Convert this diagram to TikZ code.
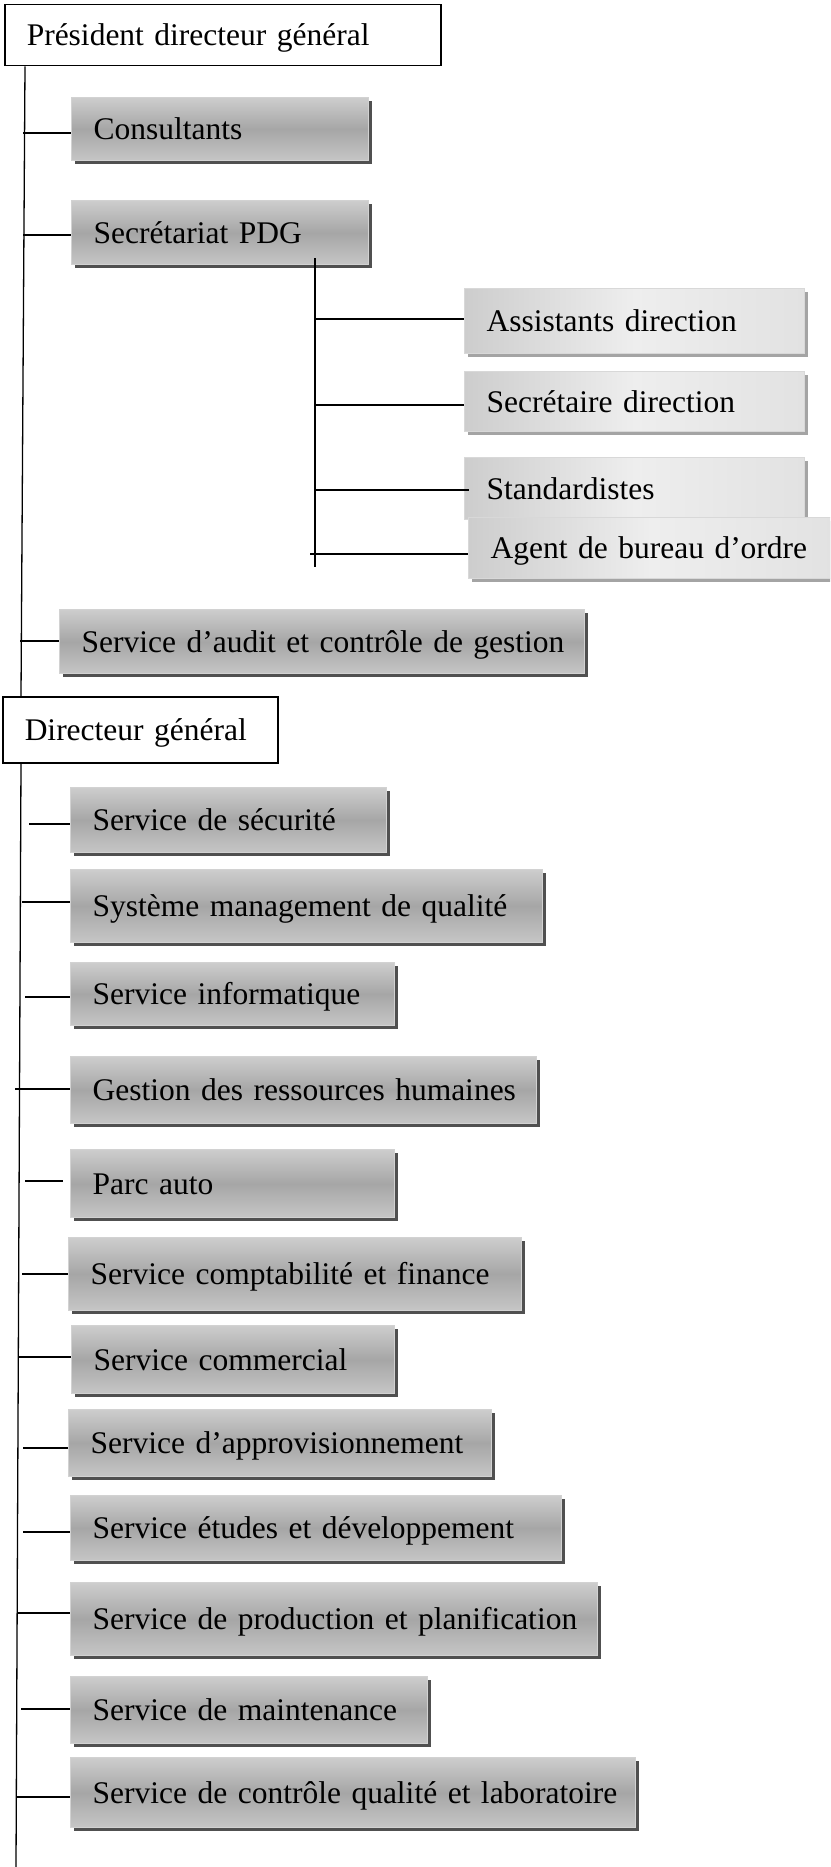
\documentclass[tikz,border=0pt]{standalone}
\usepackage{fontspec}
\setmainfont{Liberation Serif}
\usetikzlibrary{shadows}

\definecolor{gtop}{HTML}{CDCDCD}
\definecolor{gmid}{HTML}{A6A6A6}
\definecolor{gbot}{HTML}{C6C6C6}
\definecolor{gedge}{HTML}{D2D2D2}
\definecolor{gshadow}{HTML}{505050}
\definecolor{lleft}{HTML}{CDCDCD}
\definecolor{lmid}{HTML}{EEEEEE}
\definecolor{lright}{HTML}{E2E2E2}
\definecolor{ledge}{HTML}{D8D8D8}
\definecolor{lshadow}{HTML}{A4A4A4}

\tikzset{
  boxtext/.style={anchor=north west, inner xsep=0pt, inner ysep=0pt, align=left,
    text height=21pt, text depth=0pt,
    font=\fontsize{31.5}{36}\selectfont,
    execute at begin node={\hspace*{22pt}}},
  headbox/.style={boxtext, draw=black, line width=1.5pt, fill=white},
  graybox/.style={boxtext, draw=gedge, line width=1.2pt,
    top color=gtop, bottom color=gbot, middle color=gmid,
    drop shadow={shadow xshift=3pt, shadow yshift=-3pt, fill=gshadow, opacity=1}},
  lightbox/.style={boxtext, draw=ledge, line width=1.2pt,
    left color=lleft, right color=lright, middle color=lmid,
    drop shadow={shadow xshift=3pt, shadow yshift=-3pt, fill=lshadow, opacity=1}},
  link/.style={line width=1.3pt, black}
}

\begin{document}
\begin{tikzpicture}[x=1pt, y=-1pt]
\clip (0,0) rectangle (830,1867);
\fill[white] (0,0) rectangle (830,1867);

% heads
\node[headbox, minimum height=61pt, text width=436pt] (pdg) at (4,4) {Président directeur général};
\node[headbox, minimum height=66pt, text width=275pt] (dg) at (2,696) {Directeur général};

% attached to the PDG
\node[graybox, minimum height=63pt, text width=297pt] (cons) at (71,97) {Consultants};
\node[graybox, minimum height=64pt, text width=297pt] (secr) at (71,200) {Secrétariat PDG};
\node[graybox, minimum height=64pt, text width=525pt] (audit) at (59,609) {Service d’audit et contrôle de gestion};

% secretariat staff
\node[lightbox, minimum height=65pt, text width=340pt] (asst) at (464,288) {Assistants direction};
\node[lightbox, minimum height=60pt, text width=340pt] (secd) at (464,371) {Secrétaire direction};
\node[lightbox, minimum height=62pt, text width=340pt] (stan) at (464,457) {Standardistes};
\node[lightbox, minimum height=61pt, text width=366pt] (agent) at (468,517) {Agent de bureau d’ordre};

% services under the DG
\node[graybox, minimum height=65pt, text width=316pt] (secu) at (70,787) {Service de sécurité};
\node[graybox, minimum height=73pt, text width=472pt] (sys) at (70,869) {Système management de qualité};
\node[graybox, minimum height=63pt, text width=324pt] (info) at (70,962) {Service informatique};
\node[graybox, minimum height=67pt, text width=466pt] (grh) at (70,1056) {Gestion des ressources humaines};
\node[graybox, minimum height=68pt, text width=324pt] (parc) at (70,1149) {Parc auto};
\node[graybox, minimum height=73pt, text width=453pt] (compta) at (68,1237) {Service comptabilité et finance};
\node[graybox, minimum height=68pt, text width=323pt] (comm) at (71,1325) {Service commercial};
\node[graybox, minimum height=67pt, text width=423pt] (appro) at (68,1409) {Service d’approvisionnement};
\node[graybox, minimum height=65pt, text width=491pt] (etudes) at (70,1495) {Service études et développement};
\node[graybox, minimum height=73pt, text width=527pt] (prod) at (70,1582) {Service de production et planification};
\node[graybox, minimum height=67pt, text width=357pt] (maint) at (70,1676) {Service de maintenance};
\node[graybox, minimum height=70pt, text width=565pt] (cq) at (70,1757) {Service de contrôle qualité et laboratoire};

% trunk lines
\coordinate (ta) at ([xshift=21pt]pdg.south west);
\coordinate (tb) at ([xshift=19pt]dg.north west);
\coordinate (tc) at ([xshift=19pt]dg.south west);
\coordinate (td) at (16,1867);
\draw[link] (ta) -- (tb);
\draw[link] (tc) -- (td);

% branches of the upper trunk
\coordinate (bcons) at (23,133);
\coordinate (bsecr) at (23,235);
\coordinate (baudit) at (20,641);
\draw[link] (bcons) -- (cons.west |- bcons);
\draw[link] (bsecr) -- (secr.west |- bsecr);
\draw[link] (baudit) -- (audit.west |- baudit);

% secretariat sub-tree
\coordinate (sa) at ([xshift=244pt, yshift=7pt]secr.south west);
\coordinate (sb) at (315,567);
\draw[link] (sa) -- (sb);
\coordinate (basst) at (315,319);
\coordinate (bsecd) at (315,405);
\coordinate (bstan) at (315,490);
\coordinate (bagent) at (310,554);
\draw[link] (basst) -- (asst.west |- basst);
\draw[link] (bsecd) -- (secd.west |- bsecd);
\draw[link] (bstan) -- ([xshift=5pt]stan.west |- bstan);
\draw[link] (bagent) -- (agent.west |- bagent);

% branches of the lower trunk
\coordinate (bsecu) at (29,824);
\coordinate (bsys) at (22,902);
\coordinate (binfo) at (25,997);
\coordinate (bgrh) at (15,1089);
\coordinate (bparc) at (25,1181);
\coordinate (bcompta) at (22,1274);
\coordinate (bcomm) at (19,1357);
\coordinate (bappro) at (23,1448);
\coordinate (betudes) at (23,1532);
\coordinate (bprod) at (17,1613);
\coordinate (bmaint) at (21,1709);
\coordinate (bcq) at (17,1797);
\draw[link] (bsecu) -- (secu.west |- bsecu);
\draw[link] (bsys) -- (sys.west |- bsys);
\draw[link] (binfo) -- (info.west |- binfo);
\draw[link] (bgrh) -- (grh.west |- bgrh);
\draw[link] (bparc) -- ([xshift=-7pt]parc.west |- bparc);
\draw[link] (bcompta) -- (compta.west |- bcompta);
\draw[link] (bcomm) -- (comm.west |- bcomm);
\draw[link] (bappro) -- (appro.west |- bappro);
\draw[link] (betudes) -- (etudes.west |- betudes);
\draw[link] (bprod) -- (prod.west |- bprod);
\draw[link] (bmaint) -- (maint.west |- bmaint);
\draw[link] (bcq) -- (cq.west |- bcq);
\end{tikzpicture}
\end{document}
